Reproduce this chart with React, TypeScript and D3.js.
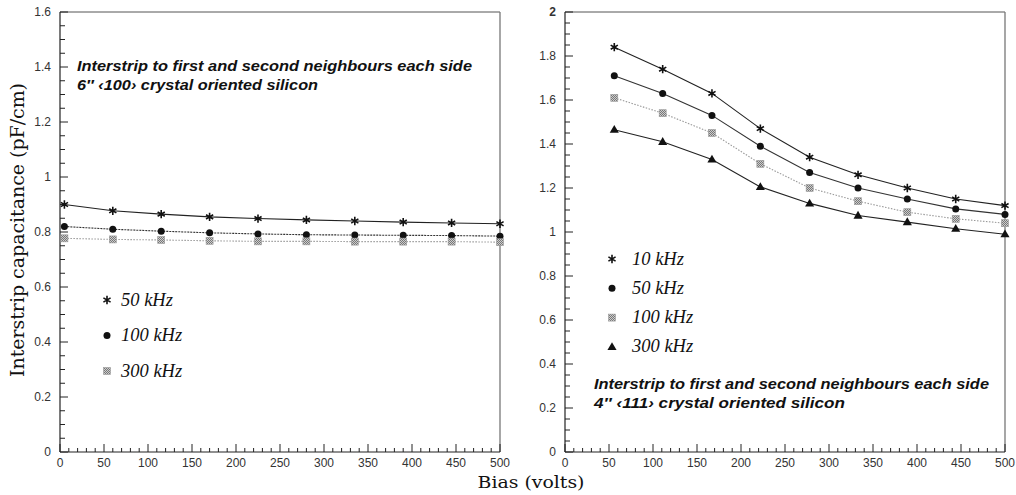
import React from "react";
import * as d3 from "d3";

// Bias points (volts)
const biasLeft = [5, 60, 115, 170, 225, 280, 335, 390, 445, 500];
const biasRight = [56, 111, 167, 222, 278, 333, 389, 444, 500];

// 6" <100> silicon, interstrip capacitance (pF/cm)
const left50k = [0.9, 0.877, 0.865, 0.855, 0.849, 0.844, 0.84, 0.836, 0.833, 0.83];
const left100k = [0.82, 0.81, 0.803, 0.797, 0.793, 0.79, 0.789, 0.788, 0.787, 0.785];
const left300k = [0.777, 0.773, 0.771, 0.768, 0.766, 0.766, 0.765, 0.765, 0.765, 0.763];

// 4" <111> silicon, interstrip capacitance (pF/cm)
const right10k = [1.84, 1.74, 1.63, 1.47, 1.34, 1.26, 1.2, 1.15, 1.12];
const right50k = [1.71, 1.63, 1.53, 1.39, 1.27, 1.2, 1.15, 1.105, 1.08];
const right100k = [1.61, 1.54, 1.45, 1.31, 1.2, 1.14, 1.09, 1.06, 1.04];
const right300k = [1.465, 1.41, 1.33, 1.205, 1.13, 1.075, 1.045, 1.015, 0.99];

const xTicks = [0, 50, 100, 150, 200, 250, 300, 350, 400, 450, 500];
const leftYTicks = [0, 0.2, 0.4, 0.6, 0.8, 1, 1.2, 1.4, 1.6];
const rightYTicks = [0, 0.2, 0.4, 0.6, 0.8, 1, 1.2, 1.4, 1.6, 1.8, 2];

const leftLegend = ["50 kHz", "100 kHz", "300 kHz"];
const rightLegend = ["10 kHz", "50 kHz", "100 kHz", "300 kHz"];

const noteLine1 = "Interstrip  to first and second neighbours each side";
const leftNote2 = "6\u2033 \u2039100\u203A crystal oriented silicon";
const rightNote2 = "4\u2033  \u2039111\u203A crystal oriented silicon";

type Mark = "star" | "dot" | "grid" | "tri";

const TOP = 12;
const BOTTOM = 452;
const SANS = "'Liberation Sans', Arial, sans-serif";
const SERIF = "'Liberation Serif', 'Times New Roman', serif";
const WIDE_SERIF = "'DejaVu Serif', 'Liberation Serif', serif";

function Marker({ kind, x, y }: { kind: Mark; x: number; y: number }) {
  if (kind === "star") {
    const p = d3.symbol(d3.symbolAsterisk, 48)();
    return <path d={p || ""} transform={`translate(${x},${y})`} fill="none" stroke="#111" strokeWidth={1.6} />;
  }
  if (kind === "dot") {
    return <circle cx={x} cy={y} r={3.5} fill="#111" />;
  }
  if (kind === "grid") {
    return <rect x={x - 3.5} y={y - 3.5} width={7} height={7} fill="url(#chk)" stroke="#999" strokeWidth={0.6} />;
  }
  const p = d3.symbol(d3.symbolTriangle, 36)();
  return <path d={p || ""} transform={`translate(${x},${y + 0.5})`} fill="#111" />;
}

function Panel({
  x0, x1, yMax, yTicks, series, marks, strokes, dashes, legend, legendX, legendY, legendGap, legendDx,
  noteX, noteY, note2, note2Len,
}: {
  x0: number; x1: number; yMax: number; yTicks: number[];
  series: { xs: number[]; ys: number[] }[]; marks: Mark[]; strokes: string[]; dashes: string[];
  legend: string[]; legendX: number; legendY: number; legendGap: number; legendDx: number;
  noteX: number; noteY: number; note2: string; note2Len: number;
}) {
  const x = d3.scaleLinear().domain([0, 500]).range([x0, x1]);
  const y = d3.scaleLinear().domain([0, yMax]).range([BOTTOM, TOP]);
  const minorY = d3.range(0, yMax + 1e-9, 0.05);
  const minorX = d3.range(0, 501, 10);
  const line = d3.line<[number, number]>().x((d) => x(d[0])).y((d) => y(d[1]));
  return (
    <g>
      {/* frame */}
      <line x1={x0} x2={x1} y1={TOP} y2={TOP} stroke="#555" strokeWidth={1} />
      <line x1={x1} x2={x1} y1={TOP} y2={BOTTOM} stroke="#777" strokeWidth={1.3} />
      <line x1={x0} x2={x0} y1={TOP} y2={BOTTOM} stroke="#222" strokeWidth={1.2} />
      <line x1={x0} x2={x1} y1={BOTTOM} y2={BOTTOM} stroke="#222" strokeWidth={1.2} />
      {minorY.map((v, i) => {
        const major = Math.abs(v / 0.2 - Math.round(v / 0.2)) < 1e-6;
        return <line key={"my" + i} x1={x0} x2={x0 + (major ? 8 : 5)} y1={y(v)} y2={y(v)} stroke="#222" strokeWidth={1} />;
      })}
      {minorX.map((v) => (
        <line key={"mx" + v} x1={x(v)} x2={x(v)} y1={BOTTOM} y2={BOTTOM - (v % 50 === 0 ? 8 : 4)} stroke="#222" strokeWidth={1} />
      ))}
      {yTicks.map((v) => (
        <text key={"yl" + v} x={x0 - 9} y={y(v) + 4} textAnchor="end" fontFamily={SANS} fontSize={12} fill="#333"
          fontWeight={v === 2 ? "bold" : "normal"}>
          {String(v)}
        </text>
      ))}
      {xTicks.map((v) => (
        <text key={"xl" + v} x={x(v)} y={BOTTOM + 15} textAnchor="middle" fontFamily={SANS} fontSize={12} fill="#333">
          {String(v)}
        </text>
      ))}
      {series.map((s, i) => (
        <g key={"s" + i}>
          <path d={line(s.xs.map((b, j) => [b, s.ys[j]] as [number, number])) || ""} fill="none" stroke={strokes[i]} strokeWidth={1.1} strokeDasharray={dashes[i]} />
          {s.xs.map((b, j) => (
            <Marker key={j} kind={marks[i]} x={x(b)} y={y(s.ys[j])} />
          ))}
        </g>
      ))}
      {legend.map((t, i) => (
        <g key={"lg" + i}>
          <Marker kind={marks[i]} x={legendX} y={legendY + i * legendGap} />
          <text x={legendX + legendDx} y={legendY + i * legendGap + 5.5} fontFamily={SERIF} fontStyle="italic" fontSize={18.5} fill="#111">
            {t}
          </text>
        </g>
      ))}
      <text x={noteX} y={noteY} fontFamily={SANS} fontStyle="italic" fontWeight="bold" fontSize={14} fill="#111"
        textLength={395} lengthAdjust="spacingAndGlyphs">
        {noteLine1}
      </text>
      <text x={noteX} y={noteY + 19} fontFamily={SANS} fontStyle="italic" fontWeight="bold" fontSize={14} fill="#111"
        textLength={note2Len} lengthAdjust="spacingAndGlyphs">
        {note2}
      </text>
    </g>
  );
}

export default function App() {
  return (
    <svg width={1016} height={495} viewBox="0 0 1016 495" style={{ position: "absolute", left: 0, top: 0, background: "#fff" }}>
      <defs>
        <pattern id="chk" width={2} height={2} patternUnits="userSpaceOnUse">
          <rect width={2} height={2} fill="#ccc" />
          <rect width={1} height={1} fill="#777" />
          <rect x={1} y={1} width={1} height={1} fill="#777" />
        </pattern>
      </defs>
      <Panel
        x0={60} x1={500} yMax={1.6} yTicks={leftYTicks}
        series={[
          { xs: biasLeft, ys: left50k },
          { xs: biasLeft, ys: left100k },
          { xs: biasLeft, ys: left300k },
        ]}
        marks={["star", "dot", "grid"]}
        strokes={["#222", "#333", "#999"]}
        dashes={["", "2 1", "1.5 1.5"]}
        legend={leftLegend} legendX={107} legendY={300} legendGap={35.5} legendDx={14}
        noteX={77} noteY={71} note2={leftNote2} note2Len={241}
      />
      <Panel
        x0={565} x1={1005} yMax={2} yTicks={rightYTicks}
        series={[
          { xs: biasRight, ys: right10k },
          { xs: biasRight, ys: right50k },
          { xs: biasRight, ys: right100k },
          { xs: biasRight, ys: right300k },
        ]}
        marks={["star", "dot", "grid", "tri"]}
        strokes={["#222", "#333", "#999", "#222"]}
        dashes={["", "", "1.5 1.5", ""]}
        legend={rightLegend} legendX={612} legendY={259} legendGap={29.3} legendDx={20}
        noteX={594} noteY={389} note2={rightNote2} note2Len={251}
      />
      <text transform="translate(24,230) rotate(-90)" textAnchor="middle" fontFamily={WIDE_SERIF} fontSize={18} fill="#111"
        textLength={294} lengthAdjust="spacingAndGlyphs">
        Interstrip capacitance (pF/cm)
      </text>
      <text x={531} y={488} textAnchor="middle" fontFamily={WIDE_SERIF} fontSize={17} fill="#111"
        textLength={107} lengthAdjust="spacingAndGlyphs">
        Bias (volts)
      </text>
    </svg>
  );
}
